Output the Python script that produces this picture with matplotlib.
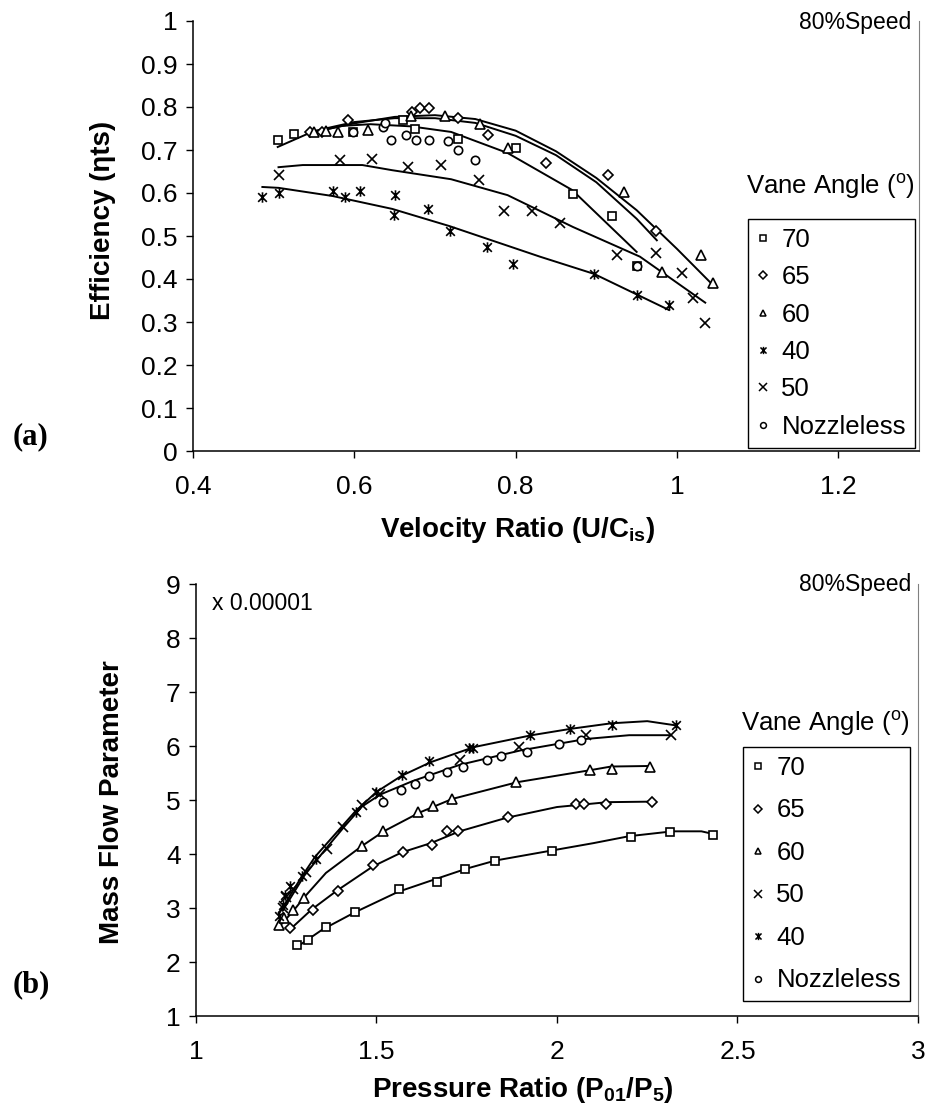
import matplotlib
matplotlib.use("Agg")
import matplotlib.pyplot as plt
from matplotlib.path import Path
from matplotlib.lines import Line2D

plt.rcParams['font.family'] = ['Liberation Sans', 'DejaVu Sans']
plt.rcParams['mathtext.fontset'] = 'custom'
plt.rcParams['mathtext.rm'] = 'Liberation Sans'
plt.rcParams['mathtext.bf'] = 'Liberation Sans:bold'
plt.rcParams['mathtext.it'] = 'Liberation Sans:italic'

# ---- (a) efficiency vs velocity ratio, markers ----
eff_70_x = [0.505, 0.525, 0.598, 0.66, 0.675, 0.728, 0.80, 0.871, 0.92, 0.95]
eff_70_y = [0.723, 0.737, 0.742, 0.77, 0.75, 0.725, 0.705, 0.598, 0.546, 0.43]
eff_65_x = [0.545, 0.56, 0.592, 0.671, 0.681, 0.692, 0.728, 0.766, 0.838, 0.914, 0.974]
eff_65_y = [0.742, 0.742, 0.77, 0.788, 0.797, 0.797, 0.774, 0.735, 0.67, 0.642, 0.512]
eff_60_x = [0.55, 0.565, 0.58, 0.617, 0.67, 0.712, 0.756, 0.79, 0.934, 0.981, 1.03, 1.045]
eff_60_y = [0.742, 0.745, 0.742, 0.746, 0.778, 0.78, 0.76, 0.705, 0.602, 0.416, 0.456, 0.39]
eff_40_x = [0.486, 0.506, 0.573, 0.589, 0.607, 0.649, 0.651, 0.691, 0.718, 0.765, 0.797, 0.897, 0.95, 0.99]
eff_40_y = [0.591, 0.600, 0.605, 0.591, 0.605, 0.549, 0.595, 0.563, 0.512, 0.474, 0.435, 0.412, 0.363, 0.34]
eff_50_x = [0.506, 0.582, 0.622, 0.666, 0.707, 0.754, 0.785, 0.82, 0.855, 0.925, 0.974, 1.006, 1.02, 1.035]
eff_50_y = [0.642, 0.677, 0.679, 0.661, 0.665, 0.63, 0.558, 0.558, 0.53, 0.456, 0.46, 0.414, 0.356, 0.298]
eff_nz_x = [0.598, 0.635, 0.638, 0.645, 0.664, 0.677, 0.693, 0.716, 0.728, 0.75, 0.95]
eff_nz_y = [0.742, 0.753, 0.763, 0.723, 0.735, 0.723, 0.723, 0.72, 0.70, 0.677, 0.43]

# (a) trend lines
fit_eff_70_x = [0.505, 0.545, 0.585, 0.62, 0.67, 0.72, 0.79, 0.87, 0.95]
fit_eff_70_y = [0.707, 0.74, 0.756, 0.76, 0.755, 0.742, 0.693, 0.607, 0.463]
fit_eff_65_x = [0.545, 0.6, 0.65, 0.7, 0.75, 0.8, 0.85, 0.9, 0.95, 0.975]
fit_eff_65_y = [0.742, 0.765, 0.774, 0.774, 0.763, 0.733, 0.688, 0.625, 0.54, 0.49]
fit_eff_60_x = [0.55, 0.6, 0.65, 0.7, 0.75, 0.8, 0.85, 0.9, 0.95, 1.0, 1.045]
fit_eff_60_y = [0.742, 0.762, 0.777, 0.781, 0.772, 0.745, 0.697, 0.635, 0.56, 0.47, 0.385]
fit_eff_50_x = [0.506, 0.536, 0.61, 0.647, 0.72, 0.79, 0.871, 0.954, 1.035]
fit_eff_50_y = [0.66, 0.665, 0.665, 0.653, 0.632, 0.595, 0.521, 0.452, 0.345]
fit_eff_40_x = [0.486, 0.506, 0.573, 0.647, 0.718, 0.83, 0.897, 0.99]
fit_eff_40_y = [0.614, 0.612, 0.593, 0.563, 0.523, 0.452, 0.412, 0.328]

# ---- (b) mass flow parameter vs pressure ratio, markers ----
mf_70_x = [1.28, 1.31, 1.36, 1.44, 1.562, 1.667, 1.745, 1.828, 1.985, 2.204, 2.313, 2.433]
mf_70_y = [2.32, 2.4, 2.65, 2.92, 3.35, 3.48, 3.73, 3.87, 4.06, 4.32, 4.40, 4.35]
mf_65_x = [1.26, 1.323, 1.394, 1.491, 1.574, 1.653, 1.694, 1.726, 1.863, 2.052, 2.075, 2.136, 2.264]
mf_65_y = [2.63, 2.97, 3.31, 3.79, 4.03, 4.17, 4.42, 4.42, 4.68, 4.92, 4.92, 4.93, 4.97]
mf_60_x = [1.23, 1.244, 1.27, 1.299, 1.459, 1.517, 1.616, 1.656, 1.71, 1.886, 2.091, 2.151, 2.258]
mf_60_y = [2.68, 2.82, 2.97, 3.18, 4.14, 4.43, 4.77, 4.89, 5.01, 5.34, 5.55, 5.58, 5.62]
mf_50_x = [1.24, 1.25, 1.27, 1.305, 1.362, 1.408, 1.46, 1.51, 1.731, 1.896, 2.08, 2.315]
mf_50_y = [3.0, 3.2, 3.36, 3.67, 4.1, 4.5, 4.91, 5.11, 5.74, 5.98, 6.2, 6.2]
mf_40_x = [1.23, 1.24, 1.247, 1.26, 1.293, 1.332, 1.442, 1.50, 1.57, 1.646, 1.757, 1.768, 1.925, 2.036, 2.151, 2.331]
mf_40_y = [2.85, 3.05, 3.24, 3.40, 3.60, 3.91, 4.77, 5.14, 5.46, 5.72, 5.97, 5.97, 6.2, 6.31, 6.38, 6.38]
mf_nz_x = [1.517, 1.567, 1.607, 1.646, 1.696, 1.739, 1.807, 1.845, 1.916, 2.006, 2.066]
mf_nz_y = [4.97, 5.19, 5.30, 5.45, 5.52, 5.62, 5.74, 5.82, 5.89, 6.03, 6.11]

# (b) trend lines
fit_mf_70_x = [1.28, 1.35, 1.44, 1.56, 1.67, 1.75, 1.83, 1.99, 2.1, 2.2, 2.32, 2.4, 2.433]
fit_mf_70_y = [2.28, 2.6, 2.92, 3.3, 3.55, 3.73, 3.88, 4.07, 4.2, 4.33, 4.42, 4.42, 4.37]
fit_mf_65_x = [1.26, 1.32, 1.39, 1.49, 1.57, 1.65, 1.73, 1.86, 2.0, 2.14, 2.264]
fit_mf_65_y = [2.6, 2.97, 3.32, 3.77, 4.03, 4.2, 4.42, 4.67, 4.87, 4.96, 4.97]
fit_mf_60_x = [1.23, 1.27, 1.3, 1.36, 1.46, 1.52, 1.62, 1.71, 1.89, 2.09, 2.15, 2.258]
fit_mf_60_y = [2.65, 2.95, 3.2, 3.65, 4.15, 4.42, 4.77, 5.02, 5.33, 5.55, 5.62, 5.63]
fit_mf_50_x = [1.24, 1.3, 1.36, 1.41, 1.46, 1.51, 1.6, 1.73, 1.9, 2.08, 2.2, 2.315]
fit_mf_50_y = [2.95, 3.6, 4.1, 4.5, 4.88, 5.1, 5.35, 5.65, 5.92, 6.13, 6.2, 6.2]
fit_mf_40_x = [1.23, 1.29, 1.33, 1.44, 1.5, 1.57, 1.65, 1.77, 1.93, 2.04, 2.15, 2.25, 2.331]
fit_mf_40_y = [2.9, 3.55, 3.95, 4.78, 5.15, 5.45, 5.7, 5.98, 6.2, 6.32, 6.42, 6.46, 6.38]

eff_xticks = [0.4, 0.6, 0.8, 1.0, 1.2]
eff_xlabels = ['0.4', '0.6', '0.8', '1', '1.2']
eff_yticks = [0, 0.1, 0.2, 0.3, 0.4, 0.5, 0.6, 0.7, 0.8, 0.9, 1.0]
eff_ylabels = ['0', '0.1', '0.2', '0.3', '0.4', '0.5', '0.6', '0.7', '0.8', '0.9', '1']
mf_xticks = [1, 1.5, 2, 2.5, 3]
mf_xlabels = ['1', '1.5', '2', '2.5', '3']
mf_yticks = [1, 2, 3, 4, 5, 6, 7, 8, 9]

# excel style star: x with a vertical bar
star = Path([(-1, -1), (1, 1), (-1, 1), (1, -1), (0, -1.2), (0, 1.2)],
            [Path.MOVETO, Path.LINETO, Path.MOVETO, Path.LINETO, Path.MOVETO, Path.LINETO])

mk = {'70': ('s', 6), '65': ('D', 5.5), '60': ('^', 7), '50': ('x', 7.5),
      '40': (star, 7.5), 'Nozzleless': ('o', 6)}

FS = 18.5
W, H = 928, 1113


def style_axes(ax, xlim, ylim, xt, xl, yt, yl):
    ax.set_xlim(*xlim)
    ax.set_ylim(*ylim)
    ax.set_xticks(xt)
    ax.set_xticklabels(xl)
    ax.set_yticks(yt)
    ax.set_yticklabels(yl)
    ax.tick_params(direction='out', length=5, width=1, labelsize=19, pad=6)
    ax.tick_params(axis='x', pad=12)
    ax.spines['top'].set_visible(False)
    ax.spines['right'].set_color('#808080')
    for s in ['left', 'bottom']:
        ax.spines[s].set_linewidth(1.1)


def draw(ax, sets, fits):
    for name, x, y in fits:
        ax.plot(x, y, color='black', lw=1.4)
    for name, x, y in sets:
        m, s = mk[name]
        ax.plot(x, y, linestyle='none', marker=m, ms=s, mfc='white' if m != 'x' else 'black',
                mec='black', mew=1.2, clip_on=False)


def legend(ax, order, left, top, spacing):
    handles = []
    for name in order:
        m, s = mk[name]
        handles.append(Line2D([], [], linestyle='none', marker=m, ms=s * 0.7,
                              mfc='white', mec='black', mew=1.1))
    leg = ax.legend(handles, order, loc='upper left',
                    bbox_to_anchor=(left / W, 1 - top / H), bbox_transform=fig.transFigure,
                    fontsize=FS, frameon=True, fancybox=False, framealpha=1,
                    handlelength=0.5, handletextpad=0.45, labelspacing=spacing,
                    borderpad=0.35, borderaxespad=0)
    leg.get_frame().set_edgecolor('black')
    leg.get_frame().set_linewidth(1.0)


fig = plt.figure(figsize=(W / 100, H / 100), dpi=100)

# ---------------- (a) ----------------
ax1 = fig.add_axes([193 / W, 1 - 451 / H, (919 - 193) / W, 430 / H])
style_axes(ax1, (0.4, 1.3), (0, 1), eff_xticks, eff_xlabels, eff_yticks, eff_ylabels)
draw(ax1,
     [('70', eff_70_x, eff_70_y), ('65', eff_65_x, eff_65_y), ('60', eff_60_x, eff_60_y),
      ('40', eff_40_x, eff_40_y), ('50', eff_50_x, eff_50_y), ('Nozzleless', eff_nz_x, eff_nz_y)],
     [('70', fit_eff_70_x, fit_eff_70_y), ('65', fit_eff_65_x, fit_eff_65_y),
      ('60', fit_eff_60_x, fit_eff_60_y), ('50', fit_eff_50_x, fit_eff_50_y),
      ('40', fit_eff_40_x, fit_eff_40_y)])
legend(ax1, ['70', '65', '60', '40', '50', 'Nozzleless'], 748, 219, 0.52)
fig.text(830 / W, 1 - 187 / H, r'Vane Angle ($^{\mathrm{o}}$)', fontsize=FS, ha='center', va='center')
fig.text(855 / W, 1 - 22 / H, '80%Speed', fontsize=16.5, ha='center', va='center')
fig.text(103 / W, 1 - 220 / H, 'Efficiency (ηts)', fontsize=20, fontweight='bold',
         rotation=90, ha='center', va='center')
fig.text(518 / W, 1 - 530 / H, r'Velocity Ratio (U/C$_{\mathbf{is}}$)', fontsize=20,
         fontweight='bold', ha='center', va='center')
fig.text(31 / W, 1 - 437 / H, '(a)', fontsize=22, fontweight='bold', family='Liberation Serif',
         ha='center', va='center')

# ---------------- (b) ----------------
ax2 = fig.add_axes([196 / W, 1 - 1016 / H, (918 - 196) / W, 432 / H])
style_axes(ax2, (1, 3), (1, 9), mf_xticks, mf_xlabels, mf_yticks, [str(v) for v in mf_yticks])
draw(ax2,
     [('70', mf_70_x, mf_70_y), ('65', mf_65_x, mf_65_y), ('60', mf_60_x, mf_60_y),
      ('50', mf_50_x, mf_50_y), ('40', mf_40_x, mf_40_y), ('Nozzleless', mf_nz_x, mf_nz_y)],
     [('70', fit_mf_70_x, fit_mf_70_y), ('65', fit_mf_65_x, fit_mf_65_y),
      ('60', fit_mf_60_x, fit_mf_60_y), ('50', fit_mf_50_x, fit_mf_50_y),
      ('40', fit_mf_40_x, fit_mf_40_y)])
legend(ax2, ['70', '65', '60', '50', '40', 'Nozzleless'], 743, 747, 0.72)
fig.text(825 / W, 1 - 723 / H, r'Vane Angle ($^{\mathrm{o}}$)', fontsize=FS, ha='center', va='center')
fig.text(855 / W, 1 - 584 / H, '80%Speed', fontsize=16.5, ha='center', va='center')
fig.text(212 / W, 1 - 603 / H, 'x 0.00001', fontsize=16.5, ha='left', va='center')
fig.text(112 / W, 1 - 802 / H, 'Mass Flow Parameter', fontsize=20, fontweight='bold',
         rotation=90, ha='center', va='center')
fig.text(523 / W, 1 - 1090 / H, r'Pressure Ratio (P$_{\mathbf{01}}$/P$_{\mathbf{5}}$)', fontsize=20,
         fontweight='bold', ha='center', va='center')
fig.text(31 / W, 1 - 985 / H, '(b)', fontsize=22, fontweight='bold', family='Liberation Serif',
         ha='center', va='center')

fig.savefig('out.png', dpi=100)
